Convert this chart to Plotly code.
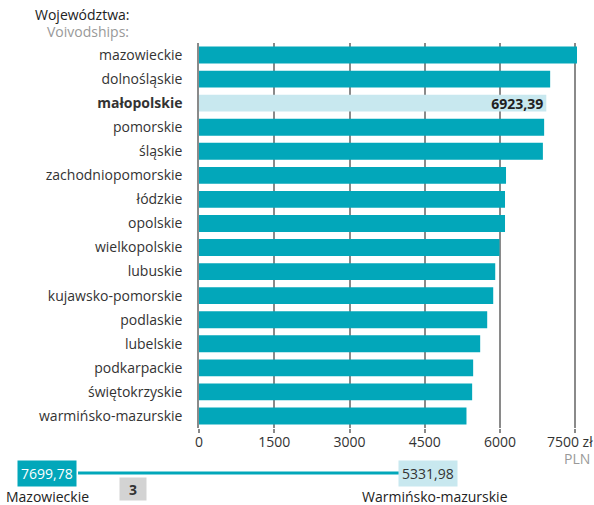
import plotly.graph_objects as go

# average salary by voivodship (PLN), top to bottom as in the picture
voivodships = ['mazowieckie', 'dolnośląskie', 'małopolskie', 'pomorskie', 'śląskie',
               'zachodniopomorskie', 'łódzkie', 'opolskie', 'wielkopolskie', 'lubuskie',
               'kujawsko-pomorskie', 'podlaskie', 'lubelskie', 'podkarpackie',
               'świętokrzyskie', 'warmińsko-mazurskie']
salary = [7699.78, 7000, 6923.39, 6880, 6855,
          6120, 6100, 6100, 5990, 5905,
          5865, 5745, 5605, 5465,
          5445, 5331.98]
selected = 'małopolskie'
tick_vals = [0, 1500, 3000, 4500, 6000, 7500]
# trailing no-break spaces pull the last label left so it stays on the page
tick_text = ['0', '1500', '3000', '4500', '6000', '7500 zł\u00a0\u00a0\u00a0']

teal = '#02a7ba'
light = '#c8e8ef'
font = 'Open Sans'

def pl(v):
    return ('%.2f' % v).replace('.', ',')

colors = [light if v == selected else teal for v in voivodships]
texts = ['<b>%s</b>' % pl(s) if v == selected else '' for v, s in zip(voivodships, salary)]
labels = ['<b>%s</b>' % v if v == selected else v for v in voivodships]

fig = go.Figure(go.Bar(
    x=salary, y=labels, orientation='h',
    marker=dict(color=colors, line=dict(width=0)),
    text=texts, textposition='inside', insidetextanchor='end', constraintext='none',
    textfont=dict(color='#222', size=14, family=font),
    hoverinfo='skip', width=0.7))

i_max = salary.index(max(salary))
i_min = salary.index(min(salary))
rank = voivodships.index(selected) + 1

def note(text, x, y, anchor='center', color='#222', **kw):
    return dict(text=text, xref='paper', yref='paper', x=x, y=y, xanchor=anchor,
                yanchor='middle', showarrow=False, font=dict(size=14, color=color), **kw)

fig.update_layout(
    width=594, height=505,
    margin=dict(l=199, r=17, t=43, b=77),
    plot_bgcolor='white', paper_bgcolor='white',
    font=dict(family=font, size=14, color='#333'),
    showlegend=False,
    xaxis=dict(range=[0, 7535], tickvals=tick_vals, ticktext=tick_text,
               showgrid=True, gridcolor='#8a8a8a', gridwidth=1.5,
               ticks='outside', ticklen=4, tickcolor='#8a8a8a', tickwidth=1.5,
               ticklabelstandoff=-3, ticklabeloverflow='allow',
               zeroline=False, showline=False, fixedrange=True, automargin=False),
    yaxis=dict(autorange='reversed', showline=True, linecolor='#8a8a8a', linewidth=1.5,
               ticklabelstandoff=12, showgrid=False, fixedrange=True, automargin=False),
    shapes=[dict(type='line', xref='paper', yref='paper', x0=-0.32, x1=0.53,
                 y0=-0.117, y1=-0.117, line=dict(color=teal, width=3), layer='below')],
    annotations=[
        note('Województwa:', -0.18, 1.075, 'right'),
        note('Voivodships:', -0.18, 1.029, 'right', '#999'),
        note('PLN', 1.04, -0.078, 'right', '#999'),
        note(pl(salary[i_max]), -0.402, -0.117, color='white', bgcolor=teal, borderpad=3),
        note(pl(salary[i_min]), 0.606, -0.117, color='#333', bgcolor=light, borderpad=3),
        note(voivodships[i_max].capitalize(), -0.402, -0.179),
        note(voivodships[i_min].capitalize(), 0.625, -0.179),
        note('<b>%d</b>' % rank, -0.174, -0.158, color='#333', bgcolor='#d3d3d3',
             width=24, height=20, borderpad=1),
    ],
)

# the page has a default body margin; drop it so the figure sits at the corner
fig.write_html('out.html', config={'displayModeBar': False},
               post_script="document.body.style.margin='0';")
